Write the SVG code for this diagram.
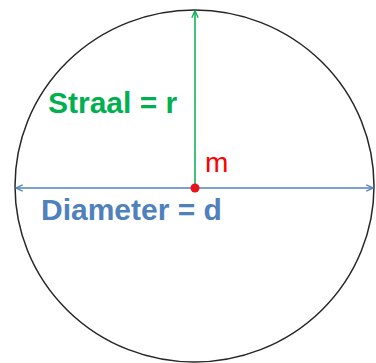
<svg xmlns="http://www.w3.org/2000/svg" width="376" height="363" viewBox="0 0 376 363">
<style>
.lbl{font-family:"Liberation Sans",Arial,sans-serif;font-weight:bold;font-size:30px}
</style>
<defs>
<marker id="ab" viewBox="0 0 10 10" refX="10" refY="5" markerWidth="8" markerHeight="8" markerUnits="userSpaceOnUse" orient="auto-start-reverse">
<path d="M1,1 L9.5,5 L1,9" fill="none" stroke="#4F81BD" stroke-width="1.6"/>
</marker>
<marker id="ag" viewBox="0 0 10 10" refX="10" refY="5" markerWidth="8" markerHeight="8" markerUnits="userSpaceOnUse" orient="auto">
<path d="M1,1 L9.5,5 L1,9" fill="none" stroke="#00B050" stroke-width="1.6"/>
</marker>
</defs>
<rect width="376" height="363" fill="#fff"/>
<g id="circle">
<ellipse cx="194.5" cy="186" rx="179.5" ry="176" fill="none" stroke="#262626" stroke-width="1.5"/>
</g>
<g id="connectors">
<line x1="15.5" y1="188" x2="373.5" y2="188" stroke="#4F81BD" stroke-width="1.5" marker-start="url(#ab)" marker-end="url(#ab)"/>
<line x1="195" y1="188" x2="195" y2="10.5" stroke="#00B050" stroke-width="1.5" marker-end="url(#ag)"/>
</g>
<g id="center">
<circle cx="195" cy="188" r="4.5" fill="#E8141B"/>
<text x="205" y="172" font-family="Liberation Sans,Arial,sans-serif" font-size="28" fill="#FF0000">m</text>
</g>
<g id="straal">
<text class="lbl" x="48" y="113" fill="#00B050">Straal = r</text>
</g>
<g id="diameter">
<text class="lbl" x="41" y="220" fill="#4F81BD">Diameter = d</text>
</g>
</svg>
